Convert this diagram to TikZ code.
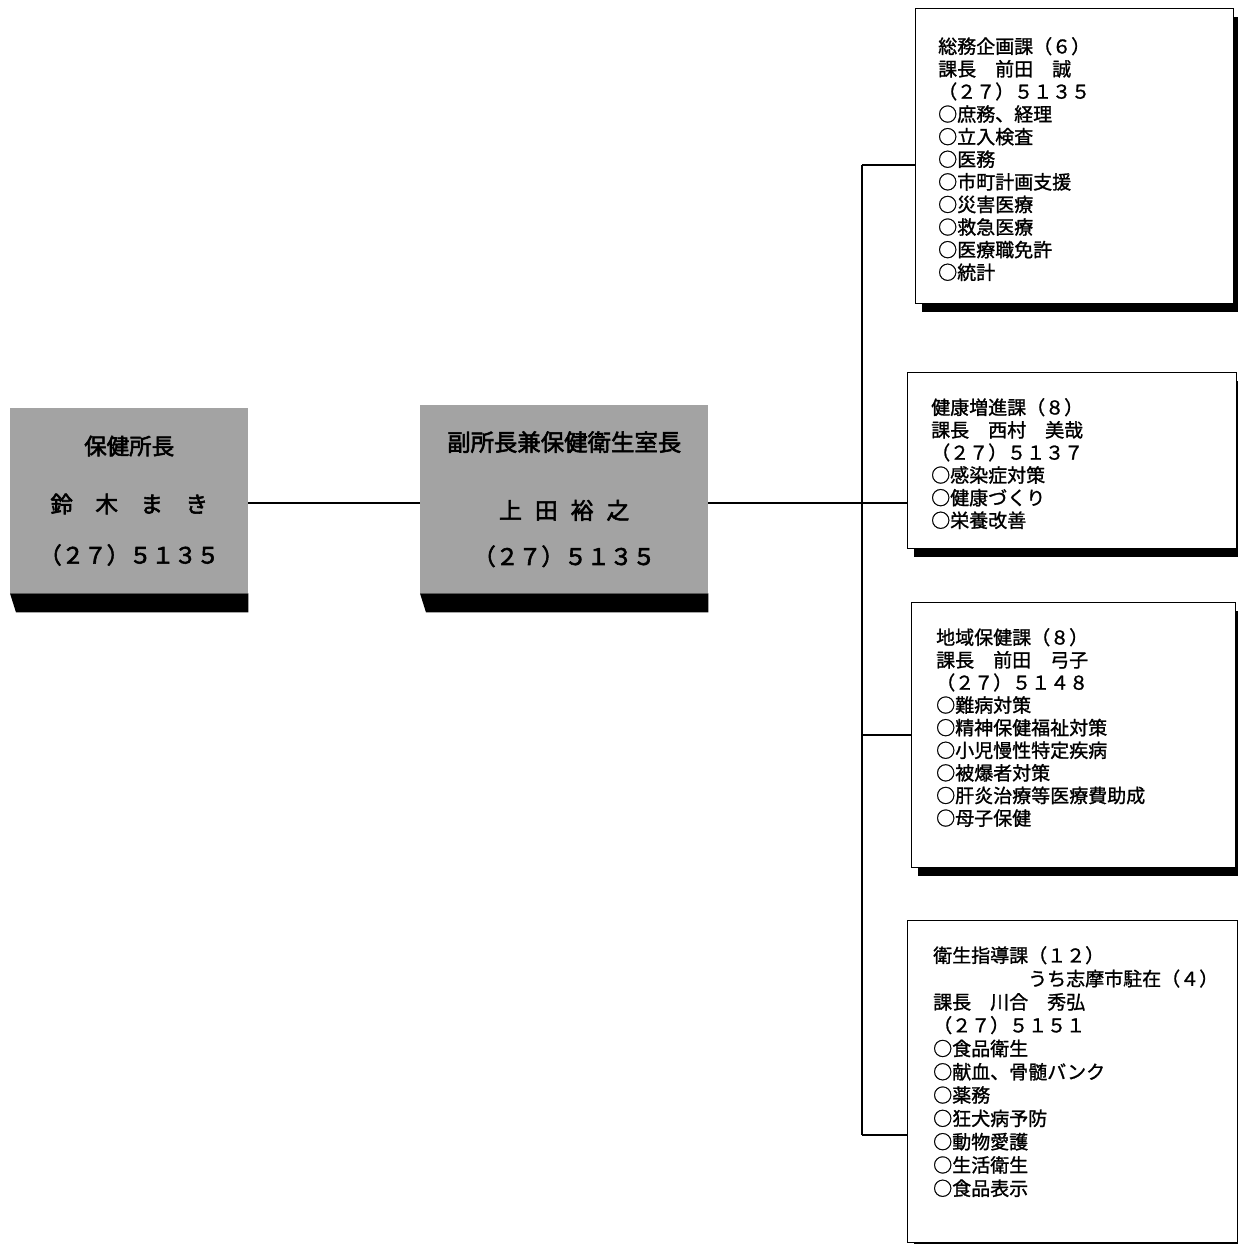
\documentclass[tikz,border=0pt]{standalone}
\usepackage{fontspec}
\setmainfont{Noto Sans CJK JP}[AutoFakeBold=2.5]
\newfontfamily\jpmed{Noto Sans CJK JP}[FakeBold=1.2]
\usetikzlibrary{calc,shadows}
\begin{document}
\begin{tikzpicture}[x=1pt,y=-1pt,
  grayb/.style={draw=none, fill=black!36, inner sep=0, align=center, anchor=north west},
  unitbox/.style={draw=black, line width=1.2pt, fill=white, inner sep=0, anchor=north west,
    drop shadow={shadow xshift=6pt, shadow yshift=-8pt, fill=black, opacity=1}},
  txt/.style={anchor=north west, inner sep=0, align=left, font=\jpmed\fontsize{19}{22.6}\selectfont},
  conn/.style={line width=1.2pt}]
\useasboundingbox (0,0) rectangle (1238,1244);

% gray boxes (leaders)
\node[grayb, minimum width=238pt, minimum height=185pt,
  font=\bfseries\fontsize{22.5}{51}\selectfont] (g1) at (10,408)
  {保健所長\\[7pt]鈴　木　ま　き\\（２７）５１３５};
\fill[black] (g1.south west) -- (g1.south east) -- ($(g1.south east)+(0,19)$) -- ($(g1.south west)+(6,19)$) -- cycle;

\node[grayb, minimum width=288pt, minimum height=188pt,
  font=\bfseries\fontsize{22.8}{46}\selectfont] (g2) at (420,405)
  {{\fontsize{23.4}{46}\selectfont 副所長兼保健衛生室長}\\[22pt]上\hspace{13pt}田\hspace{13pt}裕\hspace{13pt}之\\（２７）５１３５};
\fill[black] (g2.south west) -- (g2.south east) -- ($(g2.south east)+(0,19)$) -- ($(g2.south west)+(6,19)$) -- cycle;

% unit boxes
\node[unitbox, minimum width=318pt, minimum height=295pt] (bA) at (915,8) {};
\node[unitbox, minimum width=329pt, minimum height=176pt] (bB) at (907,372) {};
\node[unitbox, minimum width=324pt, minimum height=265pt] (bC) at (911,602) {};
\node[unitbox, minimum width=330pt, minimum height=322pt] (bD) at (907,920) {};

\node[txt] (tA) at (938,37) {総務企画課（６）\\課長　前田　誠\\（２７）５１３５\\○庶務、経理\\○立入検査\\○医務\\○市町計画支援\\○災害医療\\○救急医療\\○医療職免許\\○統計};
\node[txt] (tB) at (931,398) {健康増進課（８）\\課長　西村　美哉\\（２７）５１３７\\○感染症対策\\○健康づくり\\○栄養改善};
\node[txt] (tC) at (936,628) {地域保健課（８）\\課長　前田　弓子\\（２７）５１４８\\○難病対策\\○精神保健福祉対策\\○小児慢性特定疾病\\○被爆者対策\\○肝炎治療等医療費助成\\○母子保健};
\node[txt, font=\jpmed\fontsize{19}{23.3}\selectfont] (tD) at (933,946) {衛生指導課（１２）\\　　　　　うち志摩市駐在（４）\\課長　川合　秀弘\\（２７）５１５１\\○食品衛生\\○献血、骨髄バンク\\○薬務\\○狂犬病予防\\○動物愛護\\○生活衛生\\○食品表示};

% connectors
\coordinate (jA) at (862,165);
\coordinate (jB) at (862,503);
\coordinate (jC) at (862,735);
\coordinate (jD) at (862,1135);
\draw[conn] (g1.east |- jB) -- (g2.west |- jB);
\draw[conn] (g2.east |- jB) -- (bB.west |- jB);
\draw[conn] (jA) -- (jD);
\draw[conn] (jA) -- (bA.west |- jA);
\draw[conn] (jC) -- (bC.west |- jC);
\draw[conn] (jD) -- (bD.west |- jD);
\end{tikzpicture}
\end{document}
